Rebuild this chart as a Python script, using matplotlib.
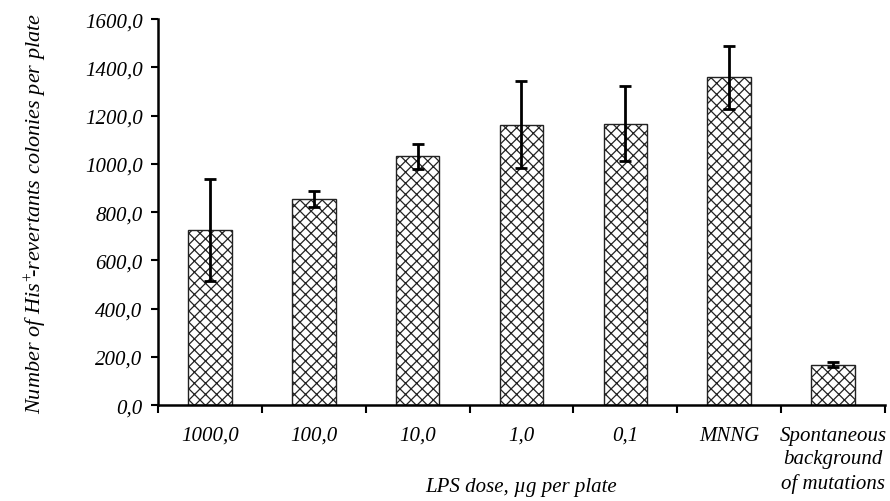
import matplotlib
matplotlib.use("Agg")
import matplotlib.pyplot as plt
import numpy as np

# values
categories = ["1000,0", "100,0", "10,0", "1,0", "0,1", "MNNG",
              "Spontaneous\nbackground\nof mutations"]
colonies = [725, 855, 1031, 1162, 1167, 1358, 168]
errors = [211, 32, 51, 180, 155, 131, 12]
yticks = [0, 200, 400, 600, 800, 1000, 1200, 1400, 1600]

plt.rcParams["font.family"] = "Liberation Serif"
plt.rcParams["font.style"] = "italic"
plt.rcParams["mathtext.fontset"] = "custom"
plt.rcParams["mathtext.rm"] = "Liberation Serif:italic"
plt.rcParams["mathtext.it"] = "Liberation Serif:italic"
plt.rcParams["hatch.linewidth"] = 0.9
plt.rcParams["hatch.color"] = "#333333"

fig = plt.figure(figsize=(8.9, 5.02), dpi=100)
ax = fig.add_axes([0.1775, 0.191, 0.8169, 0.769])

x = np.arange(len(categories))
ax.bar(x, colonies, width=0.42, color="white", edgecolor="#222222",
       linewidth=1.0, hatch="xxx", zorder=2)
ax.errorbar(x, colonies, yerr=errors, fmt="none", ecolor="black",
            elinewidth=2.0, capsize=4, capthick=2.0, zorder=3)

ax.set_xlim(-0.5, len(categories) - 0.5)
ax.set_ylim(0, 1600)

for side in ["top", "right"]:
    ax.spines[side].set_visible(False)
for side in ["left", "bottom"]:
    ax.spines[side].set_linewidth(1.8)

ax.set_yticks(yticks)
ax.set_yticklabels([f"{v:.1f}".replace(".", ",") for v in yticks], fontsize=15)
ax.tick_params(axis="y", direction="out", length=5, width=1.5, pad=6)

# category labels at centres, tick marks at boundaries
ax.set_xticks(x)
ax.set_xticklabels(categories, fontsize=15, linespacing=1.3, va="top")
ax.tick_params(axis="x", which="major", length=0, pad=15)
ax.set_xticks(np.arange(len(categories) + 1) - 0.5, minor=True)
ax.tick_params(axis="x", which="minor", direction="out", length=6, width=1.5)

ax.set_xlabel("LPS dose, µg per plate", fontsize=15)
ax.xaxis.set_label_coords(0.5, -0.185)
ax.set_ylabel(r"Number of His$^{+}\!\!$-revertants colonies per plate", fontsize=16)
ax.yaxis.set_label_coords(-0.15, 0.5)

fig.savefig("out.png", dpi=100)
